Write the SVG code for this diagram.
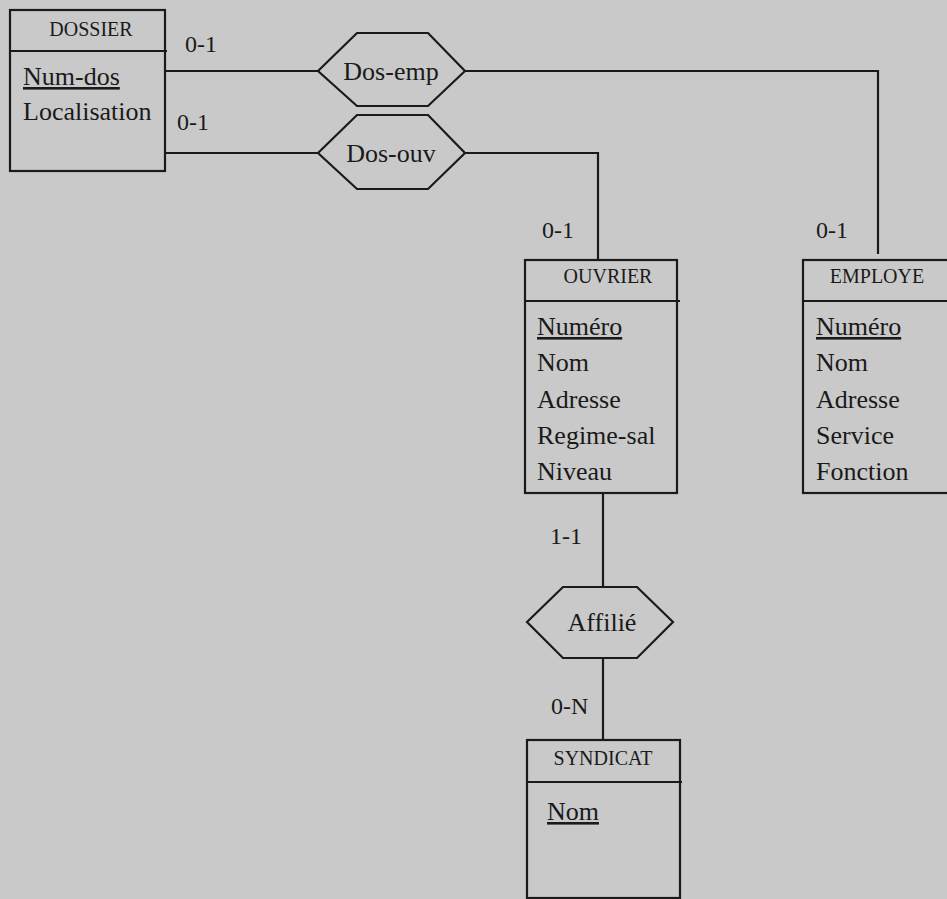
<svg xmlns="http://www.w3.org/2000/svg" width="947" height="899" viewBox="0 0 947 899" font-family="'Liberation Serif', 'Times New Roman', 'DejaVu Serif', serif">
<style>
.bg{fill:#c9c9c9}
.box{fill:#c9c9c9;stroke:#1a1a1a;stroke-width:2.2}
.ln{fill:none;stroke:#1a1a1a;stroke-width:2.2}
text{font-family:'Liberation Serif','Times New Roman','DejaVu Serif',serif;fill:#1a1a1a}
.hd{font-size:20px;text-anchor:middle}
.at{font-size:26px}
.lb{font-size:24px}
.u{text-decoration:underline}
</style>
<rect class="bg" x="0" y="0" width="947" height="899"/>
<g id="connectors">
<polyline class="ln" points="163,71 318,71"/>
<polyline class="ln" points="465,71 878,71 878,254"/>
<polyline class="ln" points="163,153 318,153"/>
<polyline class="ln" points="465,153 598,153 598,260"/>
<polyline class="ln" points="603,493 603,587"/>
<polyline class="ln" points="603,658 603,740"/>
<text class="lb" x="185" y="52">0-1</text>
<text class="lb" x="177" y="130">0-1</text>
<text class="lb" x="542" y="238">0-1</text>
<text class="lb" x="816" y="238">0-1</text>
<text class="lb" x="550" y="544">1-1</text>
<text class="lb" x="551" y="714">0-N</text>
</g>
<g id="dossier">
<rect class="box" x="10" y="10" width="155" height="161"/>
<line class="ln" x1="10" y1="51" x2="167" y2="51"/>
<text class="hd" x="91" y="36">DOSSIER</text>
<text class="at u" x="23" y="85">Num-dos</text>
<text class="at" x="23" y="120">Localisation</text>
</g>
<g id="dos-emp">
<polygon class="box" points="318,71 357,33 428,33 465,71 428,106 357,106"/>
<text class="at" x="391" y="80" text-anchor="middle">Dos-emp</text>
</g>
<g id="dos-ouv">
<polygon class="box" points="318,153 357,115 428,115 465,153 428,189 357,189"/>
<text class="at" x="391" y="162" text-anchor="middle">Dos-ouv</text>
</g>
<g id="ouvrier">
<rect class="box" x="525" y="260" width="152" height="233"/>
<line class="ln" x1="525" y1="301" x2="680" y2="301"/>
<text class="hd" x="608" y="283">OUVRIER</text>
<text class="at u" x="537" y="335">Numéro</text>
<text class="at" x="537" y="371">Nom</text>
<text class="at" x="537" y="408">Adresse</text>
<text class="at" x="537" y="444">Regime-sal</text>
<text class="at" x="537" y="480">Niveau</text>
</g>
<g id="employe">
<rect class="box" x="803" y="260" width="160" height="233"/>
<line class="ln" x1="803" y1="301" x2="947" y2="301"/>
<text class="hd" x="877" y="283">EMPLOYE</text>
<text class="at u" x="816" y="335">Numéro</text>
<text class="at" x="816" y="371">Nom</text>
<text class="at" x="816" y="408">Adresse</text>
<text class="at" x="816" y="444">Service</text>
<text class="at" x="816" y="480">Fonction</text>
</g>
<g id="affilie">
<polygon class="box" points="527,622 563,587 637,587 673,622 637,658 563,658"/>
<text class="at" x="602" y="631" text-anchor="middle">Affilié</text>
</g>
<g id="syndicat">
<rect class="box" x="527" y="740" width="153" height="158"/>
<line class="ln" x1="527" y1="782" x2="682" y2="782"/>
<text class="hd" x="603" y="765">SYNDICAT</text>
<text class="at u" x="547" y="820">Nom</text>
</g>
</svg>
